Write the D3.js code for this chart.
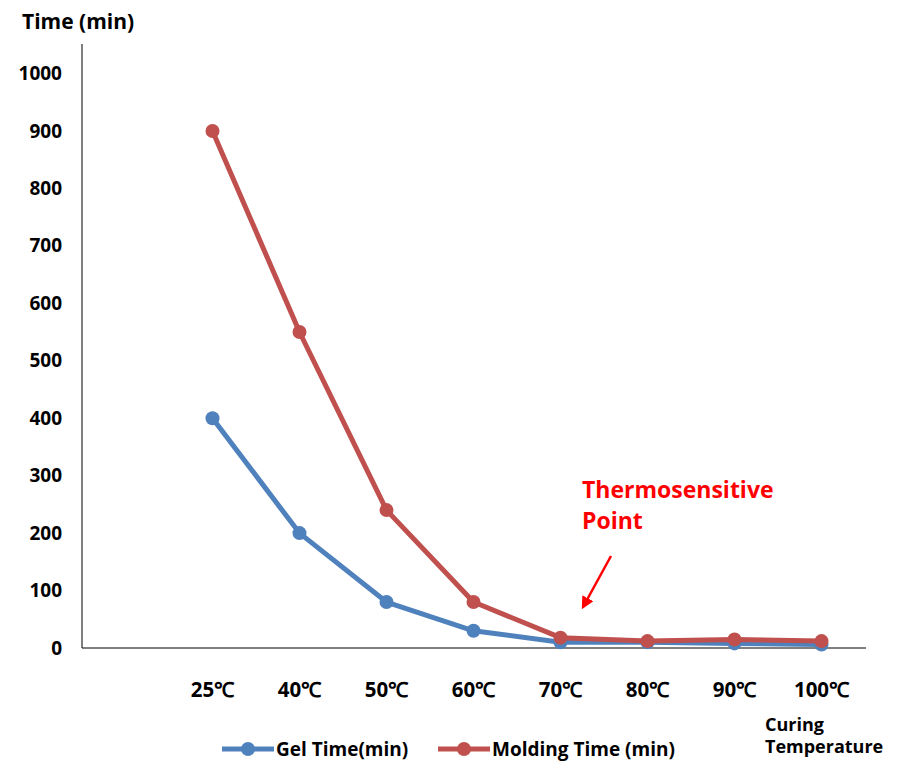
<!DOCTYPE html>
<html>
<head>
<meta charset="utf-8">
<script src="https://cdn.jsdelivr.net/npm/d3@7"></script>
<style>
  body { margin: 0; background: #fff; }
  svg text { font-family: "Open Sans", sans-serif; font-weight: bold; }
</style>
</head>
<body>
<svg id="chart" width="904" height="762"></svg>
<script>
// categories (first slot is empty in the original)
const categories = ["", "25℃", "40℃", "50℃", "60℃", "70℃", "80℃", "90℃", "100℃"];
const temps = categories.slice(1);
const gelTime = [400, 200, 80, 30, 10, 10, 8, 6];
const moldingTime = [900, 550, 240, 80, 18, 12, 15, 12];
const yTicks = [0, 100, 200, 300, 400, 500, 600, 700, 800, 900, 1000];

const svg = d3.select("#chart");

const x = d3.scaleBand().domain(categories).range([82, 865]);
const y = d3.scaleLinear().domain([0, 1000]).range([648, 73.5]);

const blue = "#4F81BD", red = "#C0504D";

// y axis
const yAxis = svg.append("g")
  .attr("transform", "translate(82,0)")
  .call(d3.axisLeft(y).tickValues(yTicks).tickFormat(d3.format("d")).tickSize(0).tickPadding(20));
yAxis.select(".domain").remove();
yAxis.selectAll("text").attr("font-size", 19).attr("fill", "#000")
  .attr("font-family", "'Open Sans', sans-serif").attr("font-weight", "bold");
svg.append("line").attr("x1", 82).attr("x2", 82).attr("y1", 44).attr("y2", 648)
  .attr("stroke", "#000").attr("stroke-width", 1);

// x axis
const xAxis = svg.append("g")
  .attr("transform", "translate(0,648)")
  .call(d3.axisBottom(x).tickSize(0).tickPadding(34));
xAxis.select(".domain").remove();
xAxis.selectAll("text").attr("font-size", 20.5).attr("fill", "#000")
  .attr("font-family", "'Open Sans', sans-serif").attr("font-weight", "bold");
svg.append("line").attr("x1", 82).attr("x2", 866).attr("y1", 648).attr("y2", 648)
  .attr("stroke", "#000").attr("stroke-width", 1);

// axis titles
svg.append("text").attr("x", 22).attr("y", 29).attr("font-size", 21).text("Time (min)");
svg.append("text").attr("x", 765).attr("y", 731).attr("font-size", 18).text("Curing");
svg.append("text").attr("x", 765).attr("y", 753).attr("font-size", 18).text("Temperature");

// series
const line = d3.line().x((d, i) => x(temps[i]) + x.bandwidth() / 2).y(d => y(d));
function drawSeries(vals, color) {
  svg.append("path").datum(vals).attr("d", line)
    .attr("fill", "none").attr("stroke", color).attr("stroke-width", 5)
    .attr("stroke-linejoin", "round");
  svg.selectAll(null).data(vals).enter().append("circle")
    .attr("cx", (d, i) => x(temps[i]) + x.bandwidth() / 2)
    .attr("cy", d => y(d))
    .attr("r", 7).attr("fill", color);
}
drawSeries(gelTime, blue);
drawSeries(moldingTime, red);

// annotation
svg.append("text").attr("x", 582).attr("y", 498).attr("font-size", 23).attr("fill", "#ff0000").text("Thermosensitive");
svg.append("text").attr("x", 582).attr("y", 529).attr("font-size", 23).attr("fill", "#ff0000").text("Point");
svg.append("defs").append("marker").attr("id", "arrow")
  .attr("viewBox", "0 0 10 10").attr("refX", 8).attr("refY", 5)
  .attr("markerWidth", 5).attr("markerHeight", 5).attr("orient", "auto")
  .append("path").attr("d", "M0,0L10,5L0,10z").attr("fill", "#ff0000");
svg.append("line").attr("x1", 611).attr("y1", 556).attr("x2", 583).attr("y2", 607)
  .attr("stroke", "#ff0000").attr("stroke-width", 2.5).attr("marker-end", "url(#arrow)");

// legend
const legend = [
  { name: "Gel Time(min)", color: blue, x: 222 },
  { name: "Molding Time (min)", color: red, x: 438 }
];
legend.forEach(l => {
  svg.append("line").attr("x1", l.x).attr("x2", l.x + 52).attr("y1", 749).attr("y2", 749)
    .attr("stroke", l.color).attr("stroke-width", 5);
  svg.append("circle").attr("cx", l.x + 26).attr("cy", 749).attr("r", 7).attr("fill", l.color);
  svg.append("text").attr("x", l.x + 54).attr("y", 756).attr("font-size", 19).text(l.name);
});
</script>
</body>
</html>
